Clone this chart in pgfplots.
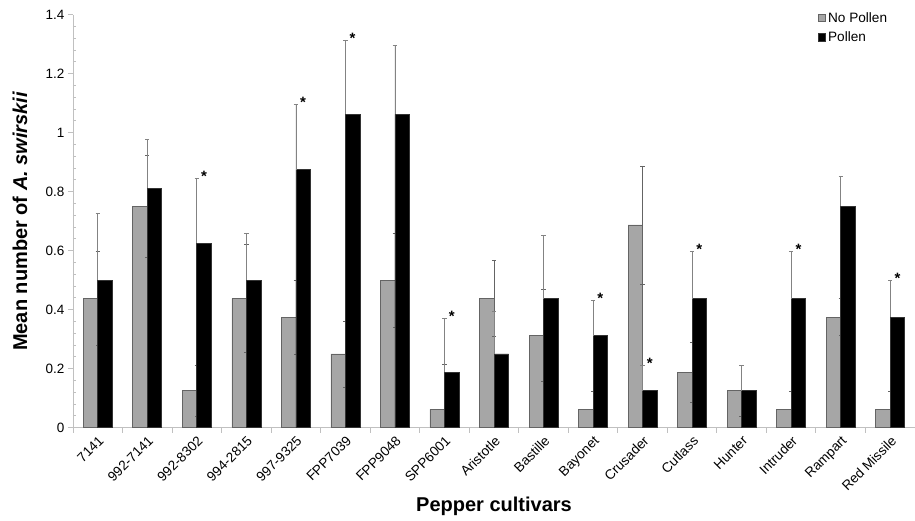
\documentclass[border=0pt]{standalone}
\usepackage{pgfplots}
\pgfplotsset{compat=1.18}
\usepackage{pgfplotstable}
\usepackage{fontspec}
\setmainfont{Liberation Sans}
\definecolor{barg}{RGB}{166,166,166}
\definecolor{barge}{RGB}{100,100,100}
\definecolor{errc}{RGB}{100,100,100}
\definecolor{axc}{RGB}{192,192,192}
\newcommand{\legfont}{\fontsize{13.6}{16}\selectfont}

\pgfplotstableread{
x grey gerr black berr
0 0.4375 0.160 0.5 0.227
1 0.75 0.172 0.8125 0.165
2 0.125 0.085 0.625 0.22
3 0.4375 0.183 0.5 0.159
4 0.375 0.125 0.875 0.221
5 0.25 0.112 1.0625 0.25
6 0.5 0.159 1.0625 0.233
7 0.0625 0.151 0.1875 0.183
8 0.4375 0.129 0.25 0.145
9 0.3125 0.155 0.4375 0.215
10 0.0625 0.0615 0.3125 0.12
11 0.6875 0.2 0.125 0.085
12 0.1875 0.101 0.4375 0.16
13 0.125 0.085 0.125 0.085
14 0.0625 0.0615 0.4375 0.16
15 0.375 0.062 0.75 0.103
16 0.0625 0.0615 0.375 0.125
}\data

\begin{document}
\begin{tikzpicture}
\begin{axis}[
  scale only axis, width=842pt, height=413pt,
  xmin=-0.5, xmax=16.5, ymin=0, ymax=1.4,
  axis x line=bottom, axis y line=left,
  axis line style={axc, -, line width=0.9pt},
  xtick={-0.5,0.5,...,16.5},
  x tick label as interval,
  xticklabels={7141,992-7141,992-8302,994-2815,997-9325,FPP7039,FPP9048,SPP6001,Aristotle,Bastille,Bayonet,Crusader,Cutlass,Hunter,Intruder,Rampart,Red Missile},
  xticklabel style={rotate=45, anchor=north east, font=\fontsize{13.6}{15}\selectfont, inner sep=1.5pt},
  ytick={0,0.2,0.4,0.6,0.8,1,1.2,1.4},
  minor y tick num=4,
  tick align=outside,
  major tick length=5pt, minor tick length=3.5pt,
  tick style={axc, line width=0.9pt},
  minor y tick style={/tikz/xshift=3.5pt},
  yticklabel style={font=\fontsize{13.5}{15}\selectfont},
  /pgf/number format/assume math mode=true,
  xlabel={Pepper cultivars},
  xlabel style={font=\fontsize{20}{24}\selectfont\bfseries, at={(axis description cs:0.5,-0.191)}, anchor=center},
  ylabel={Mean number of \textit{A. swirskii}},
  ylabel style={font=\fontsize{20}{24}\selectfont\bfseries, at={(axis description cs:-0.063,0.5)}, anchor=center},
  legend style={at={(axis description cs:0.884,1.01)}, anchor=north west, draw=none, fill=none,
    row sep=5pt, inner sep=0pt,
    nodes={inner xsep=2.5pt, inner ysep=1.5pt}},
  legend cell align=left,
  legend image code/.code={\draw[#1] (0pt,-3.7pt) rectangle (7.4pt,3.7pt);},
]
\addplot[ybar, bar width=14.5pt, bar shift=-7.25pt, fill=barg, draw=barge, line width=0.7pt,
  error bars/y dir=both, error bars/y explicit,
  error bars/error bar style={errc, line width=0.7pt},
  error bars/error mark options={rotate=90, errc, mark size=2.2pt, line width=0.7pt}]
  table[x=x, y=grey, y error=gerr]{\data};
\addlegendentry{\legfont No Pollen}
\addplot[ybar, bar width=14.5pt, bar shift=7.25pt, fill=black, draw=black!80, line width=0.7pt,
  error bars/y dir=plus, error bars/y explicit,
  error bars/error bar style={errc!80, line width=0.7pt},
  error bars/error mark options={rotate=90, errc!80, mark size=2.2pt, line width=0.7pt}]
  table[x=x, y=black, y error=berr]{\data};
\addlegendentry{\legfont Pollen}
\addplot[draw=none, mark=none, forget plot, nodes near coords={*},
  every node near coord/.style={anchor=base, xshift=7.25pt, yshift=-3pt, inner sep=0pt, font=\fontsize{15}{17}\selectfont\bfseries, black}]
  coordinates {(2,0.845) (4,1.096) (5,1.3125) (7,0.3705) (10,0.4325) (11,0.21) (12,0.5975) (14,0.5975) (16,0.5)};
\coordinate (O) at (rel axis cs:0,0);
\end{axis}
\pgfresetboundingbox
\path[use as bounding box] (O) ++(-73pt,-92.3pt) rectangle ++(915pt,520pt);
\end{tikzpicture}
\end{document}
